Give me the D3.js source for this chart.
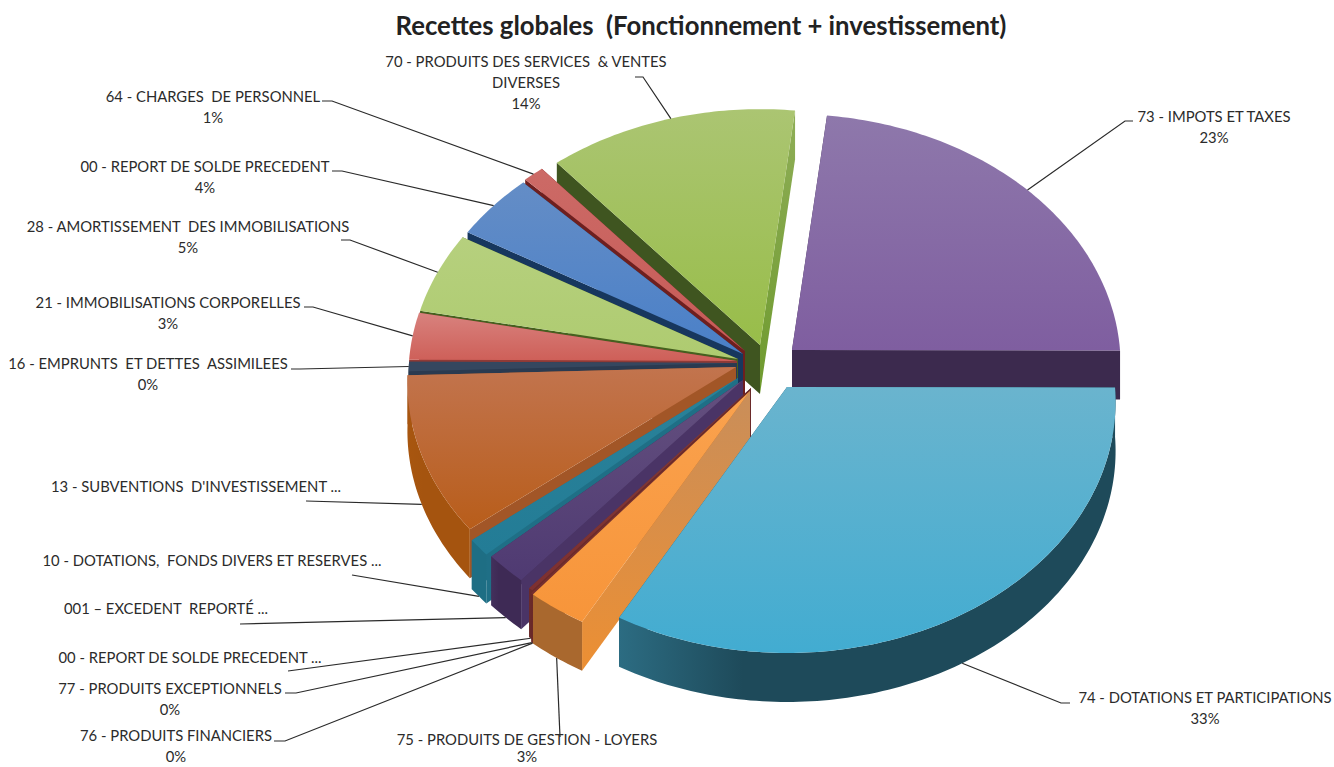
<!DOCTYPE html>
<html><head><meta charset="utf-8">
<script src="https://cdn.jsdelivr.net/npm/d3@7/dist/d3.min.js"></script>
<style>html,body{margin:0;padding:0;background:#fff}svg{display:block}text{font-family:Lato,"Open Sans",sans-serif;fill:#2b2b2b}</style>
</head><body><svg id="c" width="1334" height="767"></svg>
<script>
// ---- data ----
const chartTitle = "Recettes globales  (Fonctionnement + investissement)";
const categories = ["73 - IMPOTS ET TAXES","74 - DOTATIONS ET PARTICIPATIONS","75 - PRODUITS DE GESTION - LOYERS","76 - PRODUITS FINANCIERS","77 - PRODUITS EXCEPTIONNELS","00 - REPORT DE SOLDE PRECEDENT ...","001 – EXCEDENT  REPORTÉ ...","10 - DOTATIONS,  FONDS DIVERS ET RESERVES ...","13 - SUBVENTIONS  D'INVESTISSEMENT ...","16 - EMPRUNTS  ET DETTES  ASSIMILEES","21 - IMMOBILISATIONS CORPORELLES","28 - AMORTISSEMENT  DES IMMOBILISATIONS","00 - REPORT DE SOLDE PRECEDENT","64 - CHARGES  DE PERSONNEL","70 - PRODUITS DES SERVICES  & VENTES|DIVERSES"];
const values = [23.2,33.0,2.8,0.05,0.05,0.2,2.0,1.1,10.2,0.6,2.8,4.9,4.2,1.1,13.7];
const percentLabels = ["23%","33%","3%","0%","0%","","","","","0%","3%","5%","4%","1%","14%"];

// ---- layout ----
const cx = 737, cy = 362, radiusX = 328, radiusY = 250, perspective = 0.06, depth = 49, startDeg = 6.5, warpDeg = 2.5;
const explodeX = [55,50,13,13,13,14,6,1,-1,0,0,1,6,8,23];
const explodeY = [-12,25,29,29,29,26,18,16,5,1,-1,-3,-8,-11,-17];
// label centre x, first-line y (baseline), line gap, leader tail x, elbow x, shared y
const labelCenter = [1214,1205,527,176,170,190,166,212,196,148,168,188,205,213,526];
const labelY = [122,703,745,741,694,663,614,566,492,369,308,232,172,102,67];
const labelGap = [21,21,17,21,21,21,21,21,21,21,21,21,21,21,21];
const leaderX1 = [1133,1070,560,274,285,288,240,352,306,291,304,341,332,322,635];
const leaderX0 = [1125,1061,560,285,296,288,240,352,306,300,313,350,342,332,643];
const leaderY0 = [121,703,737,741,693,671,624,575,501,369,307,240,171,101,77];

// ---- style ----
const topLight = ["#8E78AB","#6AB4CE","#FAA24E","#8a3b3b","#8a3b3b","#7E3A3A","#64507F","#2A8299","#C2744E","#35475F","#D8827E","#B6D07E","#648DC6","#CC6A66","#ABC572"];
const topDark  = ["#7F5EA0","#42ACD1","#F7953A","#7a3030","#7a3030","#7E3030","#4F3A72","#237C96","#B85D1A","#35475F","#CE5F58","#AECB70","#4A80C8","#C75B57","#98BD49"];
const rimLight = ["#3C2A4E","#2C6C82","#A9682E","#6a2828","#6a2828","#6A2A2A","#43305C","#1E6E84","#A8560F","#2A3A50","#8F3A36","#4A6422","#17375E","#6E1F1F","#4F6A26"];
const rimDark  = ["#3C2A4E","#1E4A5A","#A9682E","#6a2828","#6a2828","#6A2A2A","#3E2A55","#1E6E84","#A5540F","#2A3A50","#8F3A36","#4A6422","#17375E","#6E1F1F","#4F6A26"];
const startWallLight = ["#3C2A4E","#1E4A5A","#C98E5A","#6a2828","#6a2828","#6A2A2A","#4A3466","#1F6F86","#A25627","#2A3A50","#8F3A36","#46601F","#17375E","#6E1F1F","#3F5520"];
const startWallDark  = ["#3C2A4E","#1E4A5A","#EC8F33","#6a2828","#6a2828","#6A2A2A","#4A3466","#1F6F86","#A25627","#2A3A50","#8F3A36","#46601F","#17375E","#6E1F1F","#3F5520"];
const endWallLight = ["#3C2A4E","#1F5468","#A9682E","#6a2828","#6a2828","#6A2A2A","#3E2A55","#1E6E84","#A25627","#2A3A50","#8F3A36","#46601F","#17375E","#6E1F1F","#8FAE57"];
const endWallDark  = ["#3C2A4E","#1F5468","#A9682E","#6a2828","#6a2828","#6A2A2A","#3E2A55","#1E6E84","#A25627","#2A3A50","#8F3A36","#46601F","#17375E","#6E1F1F","#6E9A2E"];

// ---- geometry ----
const svg = d3.select("#c");
const defs = svg.append("defs");
const rad = d => d * Math.PI / 180;
const xScale = d3.scaleLinear().domain([-1,1]).range([-radiusX,radiusX]);
const yScale = d3.scaleLinear().domain([-1,1]).range([-radiusY,radiusY]);
const pie = d3.pie().sort(null).startAngle(rad(startDeg)).endAngle(rad(startDeg+360)).value(d=>d);
const arcs = pie(values);
// the picture's perspective pushes the upper-left quadrant slightly clockwise
const warp = a => (a>rad(270) && a<rad(360)) ? a + rad(warpDeg)*Math.sin(2*(a-rad(270))) : a;
const rimPoint = (a0,i,drop=0) => {
  const a = warp(a0);
  const X = Math.sin(a), Y = -Math.cos(a), w = 1 - perspective*Y;
  return [cx+explodeX[i]+xScale(X)/w, cy+explodeY[i]+yScale(Y)/w+drop];
};
const apex = (i,drop=0) => [cx+explodeX[i], cy+explodeY[i]+drop];
const line = d3.line();
const sampleAngles = (a0,a1) => {
  const n = Math.max(2, Math.ceil(Math.abs(a1-a0)/rad(1)));
  return d3.range(n+1).map(k => a0+(a1-a0)*k/n);
};
const gradient = (id,c0,c1,horizontal) => {
  const g = defs.append("linearGradient").attr("id",id).attr("x1",0).attr("y1",0)
    .attr("x2",horizontal?1:0).attr("y2",horizontal?0:1);
  g.append("stop").attr("offset",0).attr("stop-color",c0);
  if (horizontal) g.append("stop").attr("offset",0.25).attr("stop-color",c1);
  g.append("stop").attr("offset",1).attr("stop-color",c1);
  return `url(#${id})`;
};

// painter's order: farthest slice first
const depthOf = a => -Math.cos(a);
const order = d3.range(arcs.length).sort((p,q) =>
  depthOf((arcs[p].startAngle+arcs[p].endAngle)/2) - depthOf((arcs[q].startAngle+arcs[q].endAngle)/2));

const pies = svg.append("g");
order.forEach(i => {
  const d = arcs[i], g = pies.append("g");
  const wall = (a,light,dark,key) => g.append("path")
    .attr("d", line([apex(i),rimPoint(a,i),rimPoint(a,i,depth),apex(i,depth)])+"Z")
    .attr("fill", gradient(`${key}${i}`,light,dark));
  const walls = [[d.startAngle,startWallLight[i],startWallDark[i],"ws"],[d.endAngle,endWallLight[i],endWallDark[i],"we"]];
  walls.sort((p,q)=>depthOf(p[0])-depthOf(q[0])).forEach(w=>wall(...w));
  // outer wall: only the part of the rim turned towards the viewer
  const a0 = Math.max(d.startAngle,Math.PI/2), a1 = Math.min(d.endAngle,Math.PI*1.5);
  if (a1>a0) {
    const samples = sampleAngles(a0,a1);
    const pts = samples.map(a=>rimPoint(a,i)).concat(samples.slice().reverse().map(a=>rimPoint(a,i,depth)));
    g.append("path").attr("d",line(pts)+"Z").attr("fill",gradient(`wr${i}`,rimLight[i],rimDark[i],true));
  }
  const face = [apex(i)].concat(sampleAngles(d.startAngle,d.endAngle).map(a=>rimPoint(a,i)));
  g.append("path").attr("d",line(face)+"Z").attr("fill",gradient(`t${i}`,topLight[i],topDark[i]));
});

// ---- leaders & labels ----
const labels = svg.append("g");
arcs.forEach((d,i) => {
  const mid = (d.startAngle+d.endAngle)/2;
  const front = depthOf(mid) > 0.15;
  const end = rimPoint(mid,i,front?depth:0);
  labels.append("path").attr("d",line([[leaderX1[i],leaderY0[i]],[leaderX0[i],leaderY0[i]],end]))
    .attr("fill","none").attr("stroke","#2a2a2a").attr("stroke-width",1.2);
  const textLines = categories[i].split("|");
  if (percentLabels[i]) textLines.push(percentLabels[i]);
  textLines.forEach((t,k)=>labels.append("text").attr("x",labelCenter[i]).attr("y",labelY[i]+k*labelGap[i])
    .attr("text-anchor","middle").attr("font-size",14.8).style("white-space","pre").text(t));
});
svg.append("text").attr("x",701).attr("y",35).attr("text-anchor","middle")
  .attr("font-size",25.7).attr("font-weight",700).style("white-space","pre").style("fill","#222").text(chartTitle);
</script></body></html>
